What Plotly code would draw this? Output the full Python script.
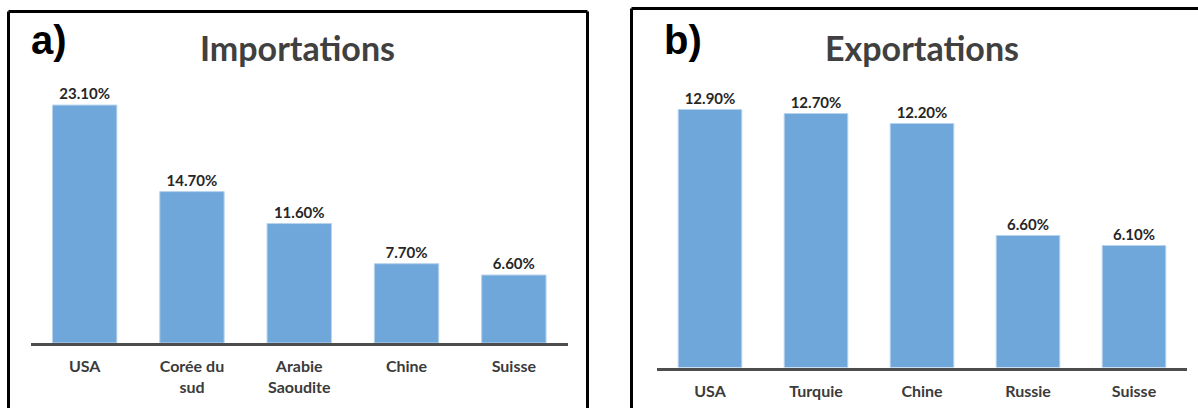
import plotly.graph_objects as go

# Part des principaux partenaires commerciaux (%)
imp_countries = ["USA", "Corée du<br>sud", "Arabie<br>Saoudite", "Chine", "Suisse"]
imp_shares = [23.1, 14.7, 11.6, 7.7, 6.6]

exp_countries = ["USA", "Turquie", "Chine", "Russie", "Suisse"]
exp_shares = [12.9, 12.7, 12.2, 6.6, 6.1]

W, H = 1198, 408
BAR = "#70a7db"
TXT = "#3b3b3b"
FONT = "Lato"


def px_x(v):
    return v / W


def px_y(v):
    return (H - v) / H


fig = go.Figure()

fig.add_trace(go.Bar(
    x=imp_countries, y=imp_shares, xaxis="x", yaxis="y",
    marker=dict(color=BAR, line=dict(color="#b7d3ee", width=1)),
    text=[f"{v:.2f}%" for v in imp_shares], textposition="outside",
    textfont=dict(family=FONT, size=15, color="#262626", weight="bold"),
    cliponaxis=False, width=0.6, showlegend=False,
))
fig.add_trace(go.Bar(
    x=exp_countries, y=exp_shares, xaxis="x2", yaxis="y2",
    marker=dict(color=BAR, line=dict(color="#b7d3ee", width=1)),
    text=[f"{v:.2f}%" for v in exp_shares], textposition="outside",
    textfont=dict(family=FONT, size=15, color="#262626", weight="bold"),
    cliponaxis=False, width=0.6, showlegend=False,
))

xcommon = dict(
    showline=True, linecolor="#4d4d4d", linewidth=3, showgrid=False,
    ticks="outside", ticklen=7, tickcolor="rgba(0,0,0,0)",
    tickfont=dict(family=FONT, size=16, color=TXT, weight="bold"),
    fixedrange=True,
)
ycommon = dict(visible=False, showgrid=False, zeroline=False, fixedrange=True)

fig.update_layout(
    width=W, height=H,
    margin=dict(l=0, r=0, t=0, b=0),
    paper_bgcolor="white", plot_bgcolor="white",
    bargap=0.4,
    xaxis=dict(domain=[px_x(31), px_x(567.5)], anchor="y", **xcommon),
    yaxis=dict(domain=[px_y(343), px_y(60)], range=[0, (343 - 60) / 10.3], anchor="x", **ycommon),
    xaxis2=dict(domain=[px_x(657), px_x(1187)], anchor="y2", **xcommon),
    yaxis2=dict(domain=[px_y(367.5), px_y(60)], range=[0, (367.5 - 60) / 20.0], anchor="x2", **ycommon),
)

# Cadres des deux panneaux (ouverts en bas)
frame = dict(color="black", width=3)
for x0, y0, x1, y1 in [
    (8.5, 420, 8.5, 11.5), (8.5, 11.5, 587.5, 11.5), (587.5, 11.5, 587.5, 420),
    (631.5, 420, 631.5, 8.5), (631.5, 8.5, 1210, 8.5),
]:
    fig.add_shape(type="line", xref="paper", yref="paper",
                  x0=px_x(x0), y0=px_y(y0), x1=px_x(x1), y1=px_y(y1), line=frame)

# Titres et repères de panneaux
for label, cx, cy in [("Importations", 297.5, 47), ("Exportations", 921.5, 47)]:
    fig.add_annotation(text=label, xref="paper", yref="paper", x=px_x(cx), y=px_y(cy),
                       xanchor="center", yanchor="middle", showarrow=False,
                       font=dict(family=FONT, size=34, color="#404040", weight="bold"))
for label, lx, cy in [("a)", 29, 40), ("b)", 662, 40)]:
    fig.add_annotation(text=label, xref="paper", yref="paper", x=px_x(lx), y=px_y(cy),
                       xanchor="left", yanchor="middle", showarrow=False,
                       font=dict(family="Liberation Sans", size=40, color="black", weight="bold"))

fig.write_html("out.html")
